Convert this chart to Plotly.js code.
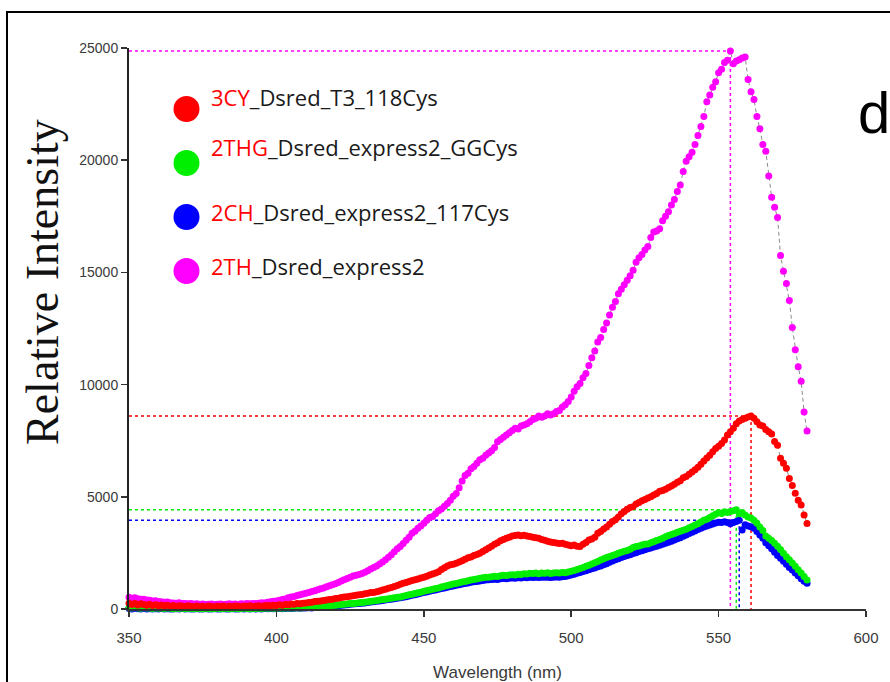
<!DOCTYPE html>
<html>
<head>
<meta charset="utf-8">
<script src="https://cdn.plot.ly/plotly-3.0.1.min.js"></script>
<style>html,body{margin:0;padding:0;background:#fff;}#chart{width:890px;height:682px;}</style>
</head>
<body>
<div id="chart"></div>
<script>
// ---------------- data ----------------
const wavelength = [
350,351,352,353,354,355,356,357,358,359,
360,361,362,363,364,365,366,367,368,369,
370,371,372,373,374,375,376,377,378,379,
380,381,382,383,384,385,386,387,388,389,
390,391,392,393,394,395,396,397,398,399,
400,401,402,403,404,405,406,407,408,409,
410,411,412,413,414,415,416,417,418,419,
420,421,422,423,424,425,426,427,428,429,
430,431,432,433,434,435,436,437,438,439,
440,441,442,443,444,445,446,447,448,449,
450,451,452,453,454,455,456,457,458,459,
460,461,462,463,464,465,466,467,468,469,
470,471,472,473,474,475,476,477,478,479,
480,481,482,483,484,485,486,487,488,489,
490,491,492,493,494,495,496,497,498,499,
500,501,502,503,504,505,506,507,508,509,
510,511,512,513,514,515,516,517,518,519,
520,521,522,523,524,525,526,527,528,529,
530,531,532,533,534,535,536,537,538,539,
540,541,542,543,544,545,546,547,548,549,
550,551,552,553,554,555,556,557,558,559,
560,561,562,563,564,565,566,567,568,569,
570,571,572,573,574,575,576,577,578,579,
580];

// 2TH_Dsred_express2 (magenta)
const int2TH = [
520,480,500,460,430,440,400,390,360,370,
330,320,300,310,280,270,260,280,240,250,
230,240,220,230,210,220,200,210,220,200,
210,220,200,210,230,210,220,200,230,220,
240,230,250,240,260,280,270,300,320,340,
360,390,420,450,500,530,560,600,630,670,
700,740,780,810,860,900,940,990,1040,1080,
1130,1180,1250,1300,1360,1420,1470,1500,1540,1580,
1640,1700,1780,1850,1920,2000,2100,2200,2310,2420,
2550,2680,2790,2920,3060,3200,3380,3470,3600,3700,
3820,3960,4080,4120,4250,4380,4460,4580,4700,4850,
5020,5150,5400,5700,5950,6050,6250,6350,6500,6650,
6720,6850,6950,7050,7200,7450,7550,7650,7750,7850,
7950,8050,8020,8150,8200,8250,8350,8450,8500,8600,
8550,8600,8700,8650,8700,8800,8850,9000,9100,9250,
9450,9700,9900,10050,10300,10500,10850,11200,11500,11900,
12100,12450,12750,13100,13450,13700,14050,14250,14450,14650,
14850,15100,15450,15650,15800,16000,16150,16550,16800,16850,
16950,17300,17500,17700,18000,18250,18600,18900,19500,19950,
20150,20350,20700,21100,21500,21950,22600,22900,23250,23500,
23900,24050,24350,24450,24870,24300,24420,24480,24550,24600,
23600,23050,22700,21950,21400,20700,20400,19300,18350,17900,
17450,15750,15050,14500,13750,12550,11550,10800,10150,8780,
7930];

// 3CY_Dsred_T3_118Cys (red)
const int3CY = [
260,200,240,180,230,200,170,210,160,190,
150,180,140,170,130,160,120,150,130,110,
140,120,100,130,110,120,100,130,110,100,
120,110,130,100,120,110,130,120,100,130,
120,140,110,130,150,120,140,160,140,170,
160,190,170,200,190,220,210,240,230,260,
270,290,300,330,340,360,380,400,420,440,
470,480,510,530,550,570,590,610,630,650,
680,700,730,740,770,800,850,880,920,960,
1000,1050,1100,1150,1180,1220,1270,1300,1340,1380,
1420,1460,1510,1560,1600,1660,1760,1840,1920,1970,
1990,2040,2100,2150,2220,2280,2320,2380,2430,2480,
2560,2640,2720,2800,2880,2950,3040,3100,3150,3200,
3250,3280,3300,3260,3290,3250,3230,3200,3170,3150,
3100,3060,3020,2990,2960,2940,2920,2930,2890,2850,
2820,2850,2800,2790,2880,2960,3070,3120,3200,3380,
3450,3560,3650,3780,3900,3980,4100,4250,4350,4450,
4520,4560,4680,4750,4820,4880,4950,5000,5080,5150,
5250,5280,5340,5420,5480,5560,5650,5720,5850,5910,
6000,6100,6200,6320,6450,6600,6730,6850,7010,7150,
7250,7380,7530,7750,7900,8050,8250,8380,8450,8500,
8560,8600,8500,8350,8200,8150,8000,7900,7800,7460,
7300,6720,6500,6270,5820,5500,5160,4850,4640,4190,
3810];

// 2THG_Dsred_express2_GGCys (green)
const int2THG = [
60,40,70,50,30,60,40,50,20,40,
30,50,20,40,30,10,30,20,40,10,
30,20,10,30,20,10,30,20,10,20,
30,10,20,30,10,20,30,10,20,30,
20,10,30,20,30,20,40,30,40,30,
30,40,30,40,50,40,50,60,50,60,
70,80,70,90,100,110,120,130,150,160,
170,180,200,210,220,240,250,260,280,290,
300,320,340,360,380,400,420,440,460,480,
500,520,540,570,600,630,660,690,720,750,
790,820,850,880,910,940,980,1010,1050,1080,
1110,1140,1170,1200,1230,1260,1290,1310,1340,1370,
1390,1410,1420,1440,1460,1450,1480,1500,1490,1510,
1530,1520,1550,1540,1570,1560,1590,1580,1600,1570,
1600,1590,1610,1580,1600,1620,1600,1630,1620,1650,
1680,1720,1760,1800,1850,1900,1950,2000,2060,2120,
2180,2240,2290,2340,2380,2430,2480,2530,2570,2610,
2660,2740,2780,2810,2850,2880,2900,2950,3000,3050,
3100,3150,3220,3280,3320,3370,3420,3470,3510,3550,
3620,3680,3740,3800,3880,3960,4000,4080,4150,4220,
4300,4260,4330,4300,4350,4380,4420,4250,4300,4190,
4100,4050,3950,3820,3650,3500,3250,3150,3050,2930,
2800,2650,2480,2330,2200,2050,1900,1750,1600,1450,
1290];

// 2CH_Dsred_express2_117Cys (blue)
const int2CH = [
20,0,30,10,0,20,0,10,0,10,
0,20,0,10,0,0,10,0,20,0,
10,0,0,10,0,0,10,0,0,10,
0,0,10,0,0,10,0,0,10,0,
10,0,10,0,10,0,20,10,20,10,
10,20,10,20,30,20,30,40,30,40,
50,60,50,70,80,90,100,110,120,130,
140,150,170,180,190,210,220,230,250,260,
270,290,310,320,340,360,380,400,420,440,
460,480,500,520,550,580,610,640,670,700,
730,760,790,820,850,880,910,940,970,1000,
1030,1060,1080,1110,1140,1160,1190,1210,1230,1250,
1270,1290,1300,1320,1330,1320,1350,1360,1350,1370,
1380,1370,1390,1380,1400,1390,1410,1400,1420,1400,
1410,1420,1410,1400,1420,1430,1410,1440,1450,1480,
1510,1550,1590,1630,1670,1710,1750,1790,1830,1880,
1920,1970,2020,2080,2140,2190,2240,2290,2340,2380,
2420,2470,2510,2560,2600,2640,2680,2720,2760,2800,
2840,2880,2930,2980,3020,3070,3130,3180,3240,3300,
3360,3420,3480,3540,3600,3650,3700,3740,3790,3830,
3870,3850,3890,3860,3800,3850,3900,3960,3520,3750,
3700,3670,3600,3450,3300,3150,2950,2820,2680,2530,
2380,2260,2130,1990,1850,1740,1600,1480,1350,1240,
1150];

const seriesPrefix = ['3CY', '2THG', '2CH', '2TH'];
const seriesSuffix = ['_Dsred_T3_118Cys', '_Dsred_express2_GGCys', '_Dsred_express2_117Cys', '_Dsred_express2'];
const seriesColors = ['#ff0000', '#00ee00', '#0000ff', '#ff00ff'];
const seriesData = [int3CY, int2THG, int2CH, int2TH];

const xTickVals = [350, 400, 450, 500, 550, 600];
const xTickText = ['350', '400', '450', '500', '550', '600'];
const yTickVals = [0, 5000, 10000, 15000, 20000, 25000];
const yTickText = ['0', '5000', '10000', '15000', '20000', '25000'];

// ---------------- drawing ----------------
const axFont = '"Liberation Sans", Arial, sans-serif';
const drawOrder = [3, 2, 1, 0]; // magenta, blue, green, red (red on top)
const traces = drawOrder.map(i => ({
  type: 'scatter',
  mode: 'lines+markers',
  x: wavelength,
  y: seriesData[i],
  name: seriesPrefix[i] + seriesSuffix[i],
  cliponaxis: false,
  line: {color: '#8a8a8a', width: 1, dash: '4px,3px'},
  marker: {color: seriesColors[i], size: 7, line: {width: 0}},
  hoverinfo: 'x+y'
}));

// peak guide lines computed from the data
const shapes = [];
seriesData.forEach((arr, i) => {
  let m = 0;
  for (let k = 1; k < arr.length; k++) if (arr[k] > arr[m]) m = k;
  const px = wavelength[m], py = arr[m];
  shapes.push({type: 'line', xref: 'x', yref: 'y', x0: 350, x1: px, y0: py, y1: py,
    line: {color: seriesColors[i], width: 1.5, dash: 'dot'}, layer: 'below'});
  shapes.push({type: 'line', xref: 'x', yref: 'y', x0: px, x1: px, y0: py, y1: 0,
    line: {color: seriesColors[i], width: 1.5, dash: 'dot'}, layer: 'below'});
});

// outer frame (left and top edges of the figure border)
const W = 737, H = 561, L = 129, T = 48;
const px2x = p => (p - L) / W;
const px2y = p => (T + H - p) / H;
shapes.push({type: 'path', xref: 'paper', yref: 'paper',
  path: `M ${px2x(7)},${px2y(684)} L ${px2x(7)},${px2y(12)} L ${px2x(892)},${px2y(12)}`,
  line: {color: '#000', width: 2}});

// custom legend: markers + two-colour labels
const legendMarkerY = [109, 163, 217, 271];
const legendTextY = [97, 147, 212, 266];
const annotations = [];
seriesPrefix.forEach((p, i) => {
  shapes.push({type: 'circle', xref: 'paper', yref: 'paper',
    xsizemode: 'pixel', ysizemode: 'pixel',
    xanchor: px2x(186.5), yanchor: px2y(legendMarkerY[i]),
    x0: -13, x1: 13, y0: -13, y1: 13,
    fillcolor: seriesColors[i], line: {width: 0}});
  annotations.push({xref: 'paper', yref: 'paper', x: px2x(209), y: px2y(legendTextY[i]),
    xanchor: 'left', yanchor: 'middle', showarrow: false,
    text: `<span style="color:#ff0000">${p}</span>${seriesSuffix[i]}`,
    font: {family: '"Open Sans", sans-serif', size: 22, color: '#1a1a1a'}});
});

annotations.push({xref: 'paper', yref: 'paper', x: px2x(42), y: px2y(282),
  xanchor: 'center', yanchor: 'middle', showarrow: false, textangle: -90,
  text: 'Relative Intensity',
  font: {family: '"Liberation Serif", "Times New Roman", serif', size: 46, color: '#111'}});

annotations.push({xref: 'paper', yref: 'paper', x: px2x(856), y: px2y(112),
  xanchor: 'left', yanchor: 'middle', showarrow: false,
  text: 'd', font: {family: '"Liberation Sans", Arial, sans-serif', size: 58, color: '#000'}});

const layout = {
  width: 890, height: 682,
  margin: {l: L, r: 890 - L - W, t: T, b: 682 - T - H, pad: 0},
  paper_bgcolor: '#ffffff', plot_bgcolor: '#ffffff',
  showlegend: false,
  xaxis: {
    range: [350, 600], tickmode: 'array', tickvals: xTickVals, ticktext: xTickText,
    showgrid: false, zeroline: false, showline: true, linecolor: '#333', linewidth: 1.5,
    ticks: 'outside', ticklen: 6, tickwidth: 1.5, tickcolor: '#333', ticklabelstandoff: 8,
    tickfont: {family: axFont, size: 15, color: '#3a3a3a'},
    title: {text: 'Wavelength (nm)', font: {family: axFont, size: 17, color: '#3a3a3a'}, standoff: 22}
  },
  yaxis: {
    range: [0, 25000], tickmode: 'array', tickvals: yTickVals, ticktext: yTickText,
    showgrid: false, zeroline: false, showline: true, linecolor: '#222', linewidth: 2,
    ticks: 'outside', ticklen: 6, tickwidth: 1.5, tickcolor: '#333',
    tickfont: {family: axFont, size: 14, color: '#3a3a3a'}
  },
  shapes: shapes,
  annotations: annotations
};

Plotly.newPlot('chart', traces, layout, {displayModeBar: false, staticPlot: true});
</script>
</body>
</html>
